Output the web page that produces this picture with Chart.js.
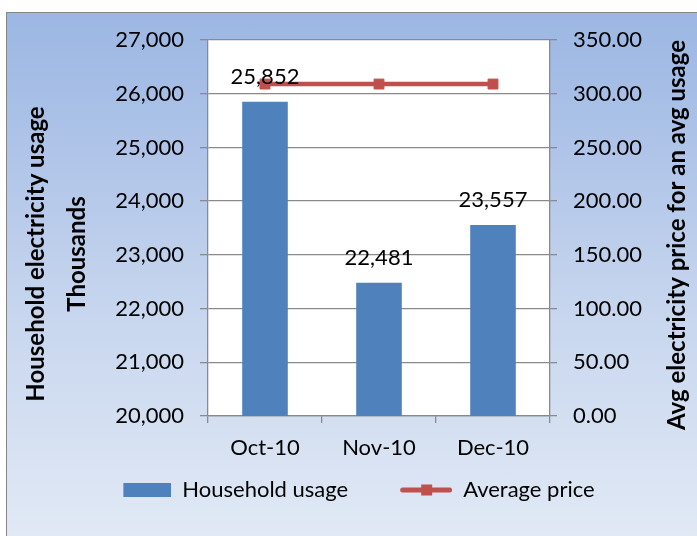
<!DOCTYPE html>
<html>
<head>
<meta charset="utf-8">
<script src="https://cdn.jsdelivr.net/npm/chart.js@4.4.1/dist/chart.umd.min.js"></script>
<style>
  html, body { margin: 0; padding: 0; background: #ffffff; overflow: hidden; }
  #wrap { position: relative; width: 697px; height: 536px; overflow: hidden; }
  #bg { position: absolute; left: 6px; top: 12px; width: 720px; height: 560px;
        border: 1px solid #868686;
        background: linear-gradient(to bottom, #9bb7e3 0px, #afc4e8 138px, #c6d5ee 288px, #e1e9f5 524px, #e3eaf6 560px); }
  canvas { position: absolute; left: 0; top: 0; }
</style>
</head>
<body>
<div id="wrap">
  <div id="bg"></div>
  <canvas id="c" width="697" height="536"></canvas>
</div>
<script>
// ---- data ----
const categories = ['Oct-10', 'Nov-10', 'Dec-10'];
const usage = [25852, 22481, 23557];
const price = [309, 309, 309];
const seriesNames = ['Household usage', 'Average price'];
const leftTitle = ['Household electricity usage', 'Thousands'];
const rightTitle = 'Avg electricity price for an avg usage';
const leftMin = 20000, leftMax = 27000, leftStep = 1000;
const rightMin = 0, rightMax = 350, rightStep = 50;

const FONT = 'Lato';
const BAR_COLOR = '#4f81bd';
const LINE_COLOR = '#c0504d';
const GRID = '#8a8a8a';

// legend swatches
function makeBarSwatch() {
  const c = document.createElement('canvas');
  c.width = 94; c.height = 16;
  const x = c.getContext('2d');
  x.fillStyle = BAR_COLOR;
  x.fillRect(46, 1, 48, 14);
  return c;
}
function makeLineSwatch() {
  const c = document.createElement('canvas');
  c.width = 94; c.height = 16;
  const x = c.getContext('2d');
  x.strokeStyle = LINE_COLOR;
  x.lineWidth = 5;
  x.lineCap = 'round';
  x.beginPath(); x.moveTo(44.5, 8); x.lineTo(91.5, 8); x.stroke();
  x.fillStyle = LINE_COLOR;
  x.fillRect(63, 2.5, 11, 11);
  return c;
}
const barSwatch = makeBarSwatch();
const lineSwatch = makeLineSwatch();

const plotBg = {
  id: 'plotBg',
  beforeDraw(chart) {
    const {ctx, chartArea: a} = chart;
    ctx.save();
    ctx.fillStyle = '#ffffff';
    ctx.fillRect(a.left, a.top, a.right - a.left, a.bottom - a.top);
    ctx.restore();
  }
};

const barLabels = {
  id: 'barLabels',
  afterDatasetsDraw(chart) {
    const {ctx} = chart;
    const meta = chart.getDatasetMeta(0);
    ctx.save();
    ctx.font = '22px ' + FONT;
    ctx.fillStyle = '#000000';
    ctx.textAlign = 'center';
    ctx.textBaseline = 'alphabetic';
    meta.data.forEach((bar, i) => {
      ctx.fillText(usage[i].toLocaleString('en-US'), bar.x, bar.y - 18);
    });
    ctx.restore();
  }
};

function drawRotated(ctx, text, x, y, font) {
  ctx.save();
  ctx.font = font;
  ctx.fillStyle = '#000000';
  ctx.textAlign = 'center';
  ctx.textBaseline = 'middle';
  ctx.translate(x, y);
  ctx.rotate(-Math.PI / 2);
  ctx.fillText(text, 0, 0);
  ctx.restore();
}

const axisTitles = {
  id: 'axisTitles',
  afterDraw(chart) {
    const {ctx} = chart;
    const yl = chart.scales.y;
    const yr = chart.scales.y1;
    const titleFont = 'bold 24px ' + FONT;
    drawRotated(ctx, leftTitle[0], yl.left + 36, 254, titleFont);
    drawRotated(ctx, leftTitle[1], yl.left + 77, 254, titleFont);
    drawRotated(ctx, rightTitle, yr.right + 5, 235, titleFont);
  }
};

new Chart(document.getElementById('c'), {
  data: {
    labels: categories,
    datasets: [
      {
        type: 'bar',
        label: seriesNames[0],
        data: usage,
        backgroundColor: BAR_COLOR,
        borderWidth: 0,
        barPercentage: 0.4,
        categoryPercentage: 1.0,
        yAxisID: 'y',
        order: 2
      },
      {
        type: 'line',
        label: seriesNames[1],
        data: price,
        borderColor: LINE_COLOR,
        backgroundColor: LINE_COLOR,
        borderWidth: 4.5,
        pointStyle: 'rect',
        pointRadius: 7,
        pointBorderWidth: 1,
        pointBackgroundColor: LINE_COLOR,
        pointBorderColor: LINE_COLOR,
        tension: 0,
        yAxisID: 'y1',
        order: 1
      }
    ]
  },
  options: {
    responsive: false,
    animation: false,
    devicePixelRatio: 1,
    layout: { padding: { top: 40, left: 0, right: 25, bottom: 25 } },
    scales: {
      x: {
        type: 'category',
        offset: true,
        grid: { display: true, drawOnChartArea: false, drawTicks: true, tickLength: 7, color: GRID, lineWidth: 1.3, offset: true },
        border: { display: true, color: GRID, width: 1.3 },
        ticks: { color: '#000', font: { family: FONT, size: 22 }, padding: 12, maxRotation: 0 },
        afterFit(s) { s.height = 53; }
      },
      y: {
        type: 'linear',
        position: 'left',
        min: leftMin, max: leftMax,
        grid: { display: true, drawOnChartArea: true, drawTicks: true, tickLength: 8, color: GRID, lineWidth: 1.3 },
        border: { display: true, color: GRID, width: 1.3 },
        ticks: {
          stepSize: leftStep, color: '#000', padding: 16,
          font: { family: FONT, size: 22 },
          callback: v => Number(v).toLocaleString('en-US')
        },
        title: { display: false },
        afterFit(s) { s.width = 208; }
      },
      y1: {
        type: 'linear',
        position: 'right',
        min: rightMin, max: rightMax,
        grid: { display: true, drawOnChartArea: false, drawTicks: true, tickLength: 7, color: GRID, lineWidth: 1.3 },
        border: { display: true, color: GRID, width: 1.3 },
        ticks: {
          stepSize: rightStep, color: '#000', padding: 16,
          font: { family: FONT, size: 22 },
          callback: v => Number(v).toFixed(2)
        },
        title: { display: false },
        afterFit(s) { s.width = 122; }
      }
    },
    plugins: {
      tooltip: { enabled: false },
      title: { display: false },
      legend: {
        display: true,
        position: 'bottom',
        align: 'center',
        labels: {
          color: '#000',
          font: { family: FONT, size: 22 },
          usePointStyle: true,
          pointStyleWidth: 94,
          padding: 10,
          generateLabels(chart) {
            const items = Chart.defaults.plugins.legend.labels.generateLabels(chart);
            items.sort((a, b) => a.datasetIndex - b.datasetIndex);
            items.forEach(it => {
              it.pointStyle = it.datasetIndex === 0 ? barSwatch : lineSwatch;
              it.fontColor = '#000';
            });
            return items;
          }
        }
      }
    }
  },
  plugins: [plotBg, barLabels, axisTitles]
});
</script>
</body>
</html>
